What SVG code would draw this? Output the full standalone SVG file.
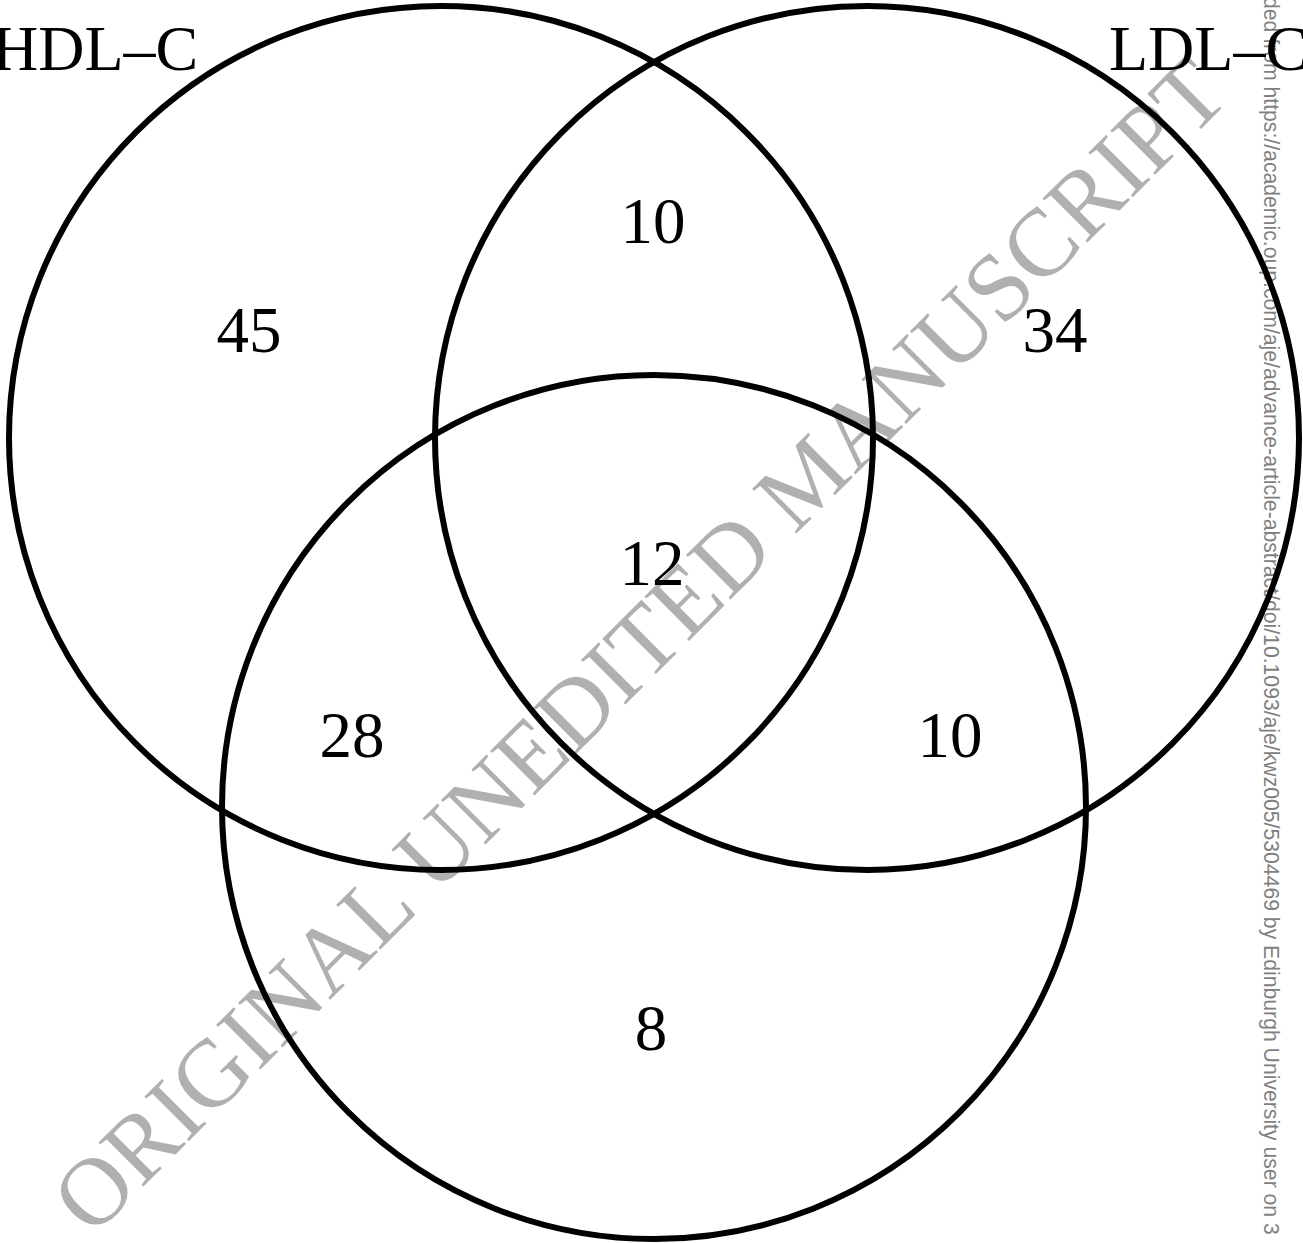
<svg xmlns="http://www.w3.org/2000/svg" width="1303" height="1243" viewBox="0 0 1303 1243">
<style>
.wm{font-family:"Liberation Serif","Times New Roman",serif;font-size:96px;fill:#b0b0b0}
.side{font-family:"Liberation Sans",Arial,sans-serif;font-size:21.2px;fill:#7f7f7f}
.set{fill:none;stroke:#000;stroke-width:6}
.num{font-family:"Liberation Serif","Times New Roman",serif;font-size:65px;fill:#000;text-anchor:middle}
.lab{font-family:"Liberation Serif","Times New Roman",serif;font-size:64px;fill:#000}
</style>
<rect width="1303" height="1243" fill="#fff"/>
<g id="watermark">
<text class="wm" x="662" y="668" text-anchor="middle" transform="rotate(-45 662 668)">ORIGINAL UNEDITED MANUSCRIPT</text>
</g>
<g id="side-note">
<text class="side" x="1264" y="-3" transform="rotate(90 1264 -3)">ded from https://academic.oup.com/aje/advance-article-abstract/doi/10.1093/aje/kwz005/5304469 by Edinburgh University user on 3</text>
</g>
<g id="connectors"></g>
<g id="hdl">
<circle class="set" cx="441" cy="438" r="432"/>
<text class="lab" x="-8" y="70">HDL–C</text>
</g>
<g id="ldl">
<circle class="set" cx="867" cy="438" r="432"/>
<text class="lab" x="1109" y="70">LDL–C</text>
</g>
<g id="third">
<circle class="set" cx="654" cy="807" r="432"/>
</g>
<g id="counts">
<text class="num" x="249" y="352">45</text>
<text class="num" x="653" y="243">10</text>
<text class="num" x="1055" y="352">34</text>
<text class="num" x="652" y="585">12</text>
<text class="num" x="352" y="757">28</text>
<text class="num" x="950" y="757">10</text>
<text class="num" x="651" y="1050">8</text>
</g>
</svg>
